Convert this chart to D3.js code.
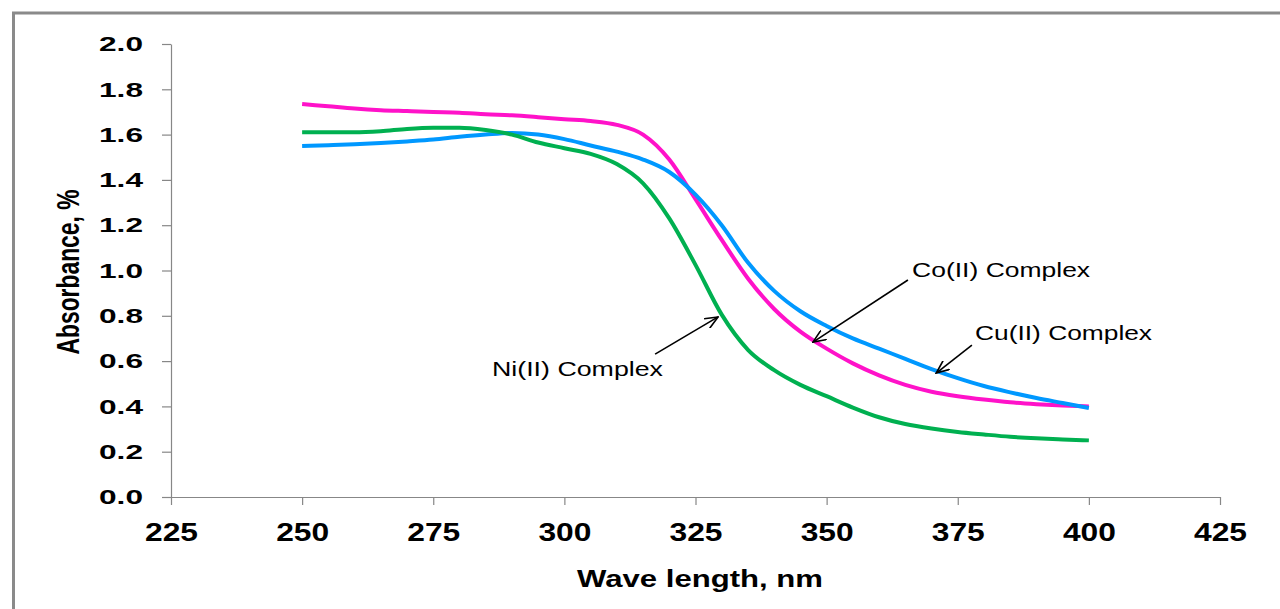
<!DOCTYPE html>
<html>
<head>
<meta charset="utf-8">
<script src="https://cdn.jsdelivr.net/npm/d3@7"></script>
<style>
  body { margin: 0; background: #fff; }
  text { font-family: "Liberation Sans", Arial, sans-serif; }
</style>
</head>
<body>
<script>
// size of the page
var w = 1280;
var h = 609;

// wavelengths, every 5 nm
const wavelengths = [250, 255, 260, 265, 270, 275, 280, 285, 290, 295, 300, 305, 310, 315, 320,
                     325, 330, 335, 340, 345, 350, 355, 360, 365, 370, 375, 380, 385, 390, 395, 400];

// absorbance
const coValues = [1.735, 1.725, 1.715, 1.708, 1.704, 1.700, 1.697, 1.690, 1.685, 1.677, 1.668,
                  1.660, 1.643, 1.600, 1.490, 1.315, 1.135, 0.965, 0.830, 0.730, 0.655, 0.590,
                  0.537, 0.495, 0.465, 0.445, 0.430, 0.418, 0.410, 0.404, 0.400];
const cuValues = [1.550, 1.553, 1.557, 1.563, 1.570, 1.578, 1.590, 1.600, 1.607, 1.600, 1.580,
                  1.552, 1.525, 1.490, 1.435, 1.335, 1.200, 1.035, 0.910, 0.820, 0.755, 0.700,
                  0.655, 0.610, 0.565, 0.525, 0.490, 0.462, 0.437, 0.415, 0.393];
const niValues = [1.610, 1.610, 1.610, 1.615, 1.625, 1.630, 1.630, 1.620, 1.600, 1.565, 1.540,
                  1.515, 1.470, 1.385, 1.230, 1.025, 0.805, 0.650, 0.560, 0.495, 0.445, 0.395,
                  0.352, 0.322, 0.302, 0.287, 0.276, 0.266, 0.259, 0.254, 0.250];

// tick values
const xTicks = [225, 250, 275, 300, 325, 350, 375, 400, 425];
const yTicks = [0, 0.2, 0.4, 0.6, 0.8, 1.0, 1.2, 1.4, 1.6, 1.8, 2.0];

const seriesNames = ["Co(II) Complex", "Cu(II) Complex", "Ni(II) Complex"];
const seriesValues = [coValues, cuValues, niValues];
const seriesColors = ["#ff12c9", "#0098ff", "#00b050"];

// the hand drawn labels + arrows, in data units
const noteText = ["Co(II) Complex", "Cu(II) Complex", "Ni(II) Complex"];
const noteLabel = [[366.3, 0.971], [378.3, 0.693], [286.2, 0.534]];
const noteFrom = [[365.5, 0.958], [377.7, 0.671], [317.3, 0.631]];
const noteTo = [[347.4, 0.684], [370.9, 0.547], [329.3, 0.795]];

// scales
const xScale = d3.scaleLinear().domain([225, 425]).range([171, 1220]);
const yScale = d3.scaleLinear().domain([0, 2]).range([497, 44]);

const svg = d3.select("body")
    .append("svg")
    .attr("width", w)
    .attr("height", h);

// grey frame round the chart (runs off the right and bottom)
svg.append("rect")
    .attr("x", 13.5)
    .attr("y", 13)
    .attr("width", 1400)
    .attr("height", 800)
    .attr("fill", "none")
    .attr("stroke", "#8a8a8a")
    .attr("stroke-width", 3);

// axes
const yAxis = d3.axisLeft(yScale)
    .tickValues(yTicks)
    .tickFormat(d3.format(".1f"))
    .tickSize(9)
    .tickSizeOuter(0)
    .tickPadding(19);

const xAxis = d3.axisBottom(xScale)
    .tickValues(xTicks)
    .tickFormat(d3.format("d"))
    .tickSize(8)
    .tickSizeOuter(0)
    .tickPadding(18);

const gy = svg.append("g")
    .attr("transform", "translate(171,0)")
    .call(yAxis);

const gx = svg.append("g")
    .attr("transform", "translate(0,497)")
    .call(xAxis);

[gx, gy].forEach(g => {
    g.selectAll("path, line").attr("stroke", "#878787").attr("stroke-width", 1.2);
    g.selectAll("text").attr("fill", "#000").attr("font-weight", "bold");
});

// the original picture is stretched sideways, so stretch the text too
gy.selectAll("text")
    .attr("font-size", 21)
    .attr("textLength", 44)
    .attr("lengthAdjust", "spacingAndGlyphs");

gx.selectAll("text")
    .attr("font-size", 25)
    .attr("textLength", 53)
    .attr("lengthAdjust", "spacingAndGlyphs");

// axis titles
svg.append("text")
    .attr("x", 700)
    .attr("y", 587)
    .attr("text-anchor", "middle")
    .attr("font-size", 23)
    .attr("font-weight", "bold")
    .attr("textLength", 246)
    .attr("lengthAdjust", "spacingAndGlyphs")
    .text("Wave length, nm");

svg.append("text")
    .attr("transform", "translate(79,272) scale(1.4,1) rotate(-90)")
    .attr("text-anchor", "middle")
    .attr("font-size", 22)
    .attr("font-weight", "bold")
    .attr("textLength", 165)
    .attr("lengthAdjust", "spacingAndGlyphs")
    .text("Absorbance, %");

// the curves
const line = d3.line()
    .x(d => xScale(d[0]))
    .y(d => yScale(d[1]))
    .curve(d3.curveMonotoneX);

svg.selectAll(".series")
    .data(seriesValues)
    .enter()
    .append("path")
    .attr("class", "series")
    .attr("d", vals => line(wavelengths.map((wl, i) => [wl, vals[i]])))
    .attr("fill", "none")
    .attr("stroke", (d, i) => seriesColors[i])
    .attr("stroke-width", 4)
    .attr("stroke-linejoin", "round");

// open arrow head
svg.append("defs").append("marker")
    .attr("id", "head")
    .attr("viewBox", "0 -6 14 12")
    .attr("refX", 13)
    .attr("refY", 0)
    .attr("markerWidth", 14)
    .attr("markerHeight", 12)
    .attr("markerUnits", "userSpaceOnUse")
    .attr("orient", "auto")
    .append("path")
    .attr("d", "M0,-5.5L13,0L0,5.5")
    .attr("fill", "none")
    .attr("stroke", "#000")
    .attr("stroke-width", 1.6);

svg.selectAll(".arrow")
    .data(noteFrom)
    .enter()
    .append("line")
    .attr("class", "arrow")
    .attr("x1", d => xScale(d[0]))
    .attr("y1", d => yScale(d[1]))
    .attr("x2", (d, i) => xScale(noteTo[i][0]))
    .attr("y2", (d, i) => yScale(noteTo[i][1]))
    .attr("stroke", "#000")
    .attr("stroke-width", 1.6)
    .attr("marker-end", "url(#head)");

svg.selectAll(".note")
    .data(noteText)
    .enter()
    .append("text")
    .attr("class", "note")
    .attr("x", (d, i) => xScale(noteLabel[i][0]))
    .attr("y", (d, i) => yScale(noteLabel[i][1]))
    .attr("font-size", 20)
    .attr("textLength", (d, i) => [178, 177, 171][i])
    .attr("lengthAdjust", "spacingAndGlyphs")
    .attr("fill", "#000")
    .text(d => d);
</script>
</body>
</html>
